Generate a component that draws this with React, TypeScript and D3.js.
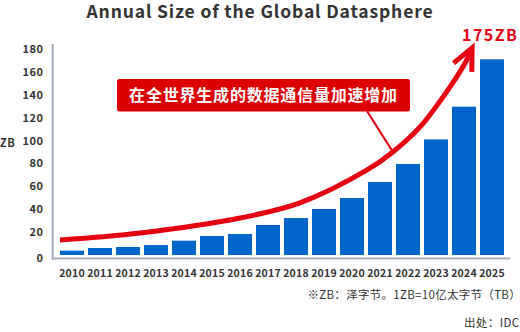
import React from "react";
import * as d3 from "d3";

const years = ["2010","2011","2012","2013","2014","2015","2016","2017","2018","2019","2020","2021","2022","2023","2024","2025"];
const values = [3.8, 6.1, 7.0, 8.7, 12.5, 16.6, 18.4, 26.2, 32.3, 40.2, 49.8, 63.8, 79.5, 101, 129.6, 171];
const yTicks = [0, 20, 40, 60, 80, 100, 120, 140, 160, 180];
// trend arrow in data space: fractional bar index, value
const trendIdx = [-0.43, 2.43, 6.0, 8.14, 10.54, 11.46, 12.43, 13.5, 14.04, 14.29];
const trendVal = [13.1, 19.2, 32.3, 45.5, 74.3, 90, 111.9, 146.9, 167.8, 181];

const title = "Annual Size of the Global Datasphere";
const calloutText = "在全世界生成的数据通信量加速增加";
const peakLabel = "175ZB";
const unitLabel = "ZB";
const note1 = "※ZB：泽字节。1ZB=10亿太字节（TB）";
const note2 = "出处：IDC";

const W = 520, H = 332;
const RED = "#e50012";
const BOX = "#dd0000";
const BLUE = "#0066cc";
const AXIS = "#a3acb9";
const TEXT = "#333333";
const FONT = "'Noto Sans CJK SC', 'Noto Sans', sans-serif";

export default function App() {
  const x = d3.scaleBand<string>().domain(years).range([58, 506]).paddingInner(4 / 28).paddingOuter(2 / 28);
  const y = d3.scaleLinear().domain([0, 180]).range([255, 49]);
  const xi = d3.scaleLinear().domain([0, 15]).range([
    (x(years[0]) as number) + x.bandwidth() / 2,
    (x(years[15]) as number) + x.bandwidth() / 2,
  ]);
  const pts: [number, number][] = trendIdx.map((t, i) => [xi(t), y(trendVal[i])]);
  const line = d3.line().curve(d3.curveCatmullRom.alpha(0.5));
  const tip = pts[pts.length - 1];
  const prev = pts[pts.length - 2];
  const ang = Math.atan2(prev[1] - tip[1], prev[0] - tip[0]);
  const L = 24;
  const b1: [number, number] = [tip[0] + L * Math.cos(ang + 0.45), tip[1] + L * Math.sin(ang + 0.45)];
  const b2: [number, number] = [tip[0] + L * Math.cos(ang - 0.42), tip[1] + L * Math.sin(ang - 0.42)];
  const ptrEnd = pts[5];

  const axisY = 258.5;
  const axisX = 52.7;

  return (
    <svg width={W} height={H} style={{ position: "absolute", left: 0, top: 0 }} fontFamily={FONT}>
      <rect width={W} height={H} fill="#fff" />
      <text x={260} y={17.5} textAnchor="middle" fontSize={17.5} fontWeight={700} fill={TEXT} letterSpacing={0.85}>{title}</text>

      {/* axes */}
      <line x1={axisX} x2={axisX} y1={44} y2={axisY + 1} stroke={AXIS} strokeWidth={2} />
      <line x1={axisX - 1} x2={510} y1={axisY} y2={axisY} stroke={AXIS} strokeWidth={2} />

      {yTicks.map((t) => (
        <text key={t} x={43.5} y={(t === 0 ? y(t) + 3.5 : y(t)) } dy="0.36em" textAnchor="end" fontSize={11} fontWeight={700} fill={TEXT} letterSpacing={0.5}>{t}</text>
      ))}
      <text x={0} y={143} dy="0.36em" fontSize={11} fontWeight={700} fill={TEXT} letterSpacing={0.5}>{unitLabel}</text>

      {years.map((yr, i) => (
        <rect key={yr} x={x(yr)} y={y(values[i])} width={x.bandwidth()} height={y(0) - y(values[i])} fill={BLUE} />
      ))}
      {years.map((yr) => (
        <text key={"l" + yr} x={(x(yr) as number) + x.bandwidth() / 2} y={273.5} dy="0.36em" textAnchor="middle" fontSize={10.5} fontWeight={700} fill={TEXT} letterSpacing={0.2}>{yr}</text>
      ))}

      {/* callout */}
      <line x1={367} y1={111} x2={ptrEnd[0]} y2={ptrEnd[1]} stroke={RED} strokeWidth={2.2} />
      <rect x={117} y={79} width={293} height={32.5} rx={2.5} fill={BOX} />
      <text x={263.5} y={95.5} dy="0.36em" textAnchor="middle" fontSize={16} fontWeight={700} fill="#fff" letterSpacing={0.8}>{calloutText}</text>

      {/* trend arrow */}
      <path d={line(pts) || ""} fill="none" stroke={RED} strokeWidth={5} strokeLinecap="butt" />
      <path d={`M${b1[0]},${b1[1]}L${tip[0]},${tip[1]}L${b2[0]},${b2[1]}`} fill="none" stroke={RED} strokeWidth={5} strokeLinejoin="miter" strokeMiterlimit={10} />

      <text x={518.5} y={40.5} textAnchor="end" fontSize={16} fontWeight={700} fill={RED} letterSpacing={1.5}>{peakLabel}</text>

      <text x={521} y={295} dy="0.36em" textAnchor="end" fontSize={11.5} fill={TEXT} letterSpacing={0.3}>{note1}</text>
      <text x={519.5} y={323} dy="0.36em" textAnchor="end" fontSize={11.5} fill={TEXT} letterSpacing={0.4}>{note2}</text>
    </svg>
  );
}
